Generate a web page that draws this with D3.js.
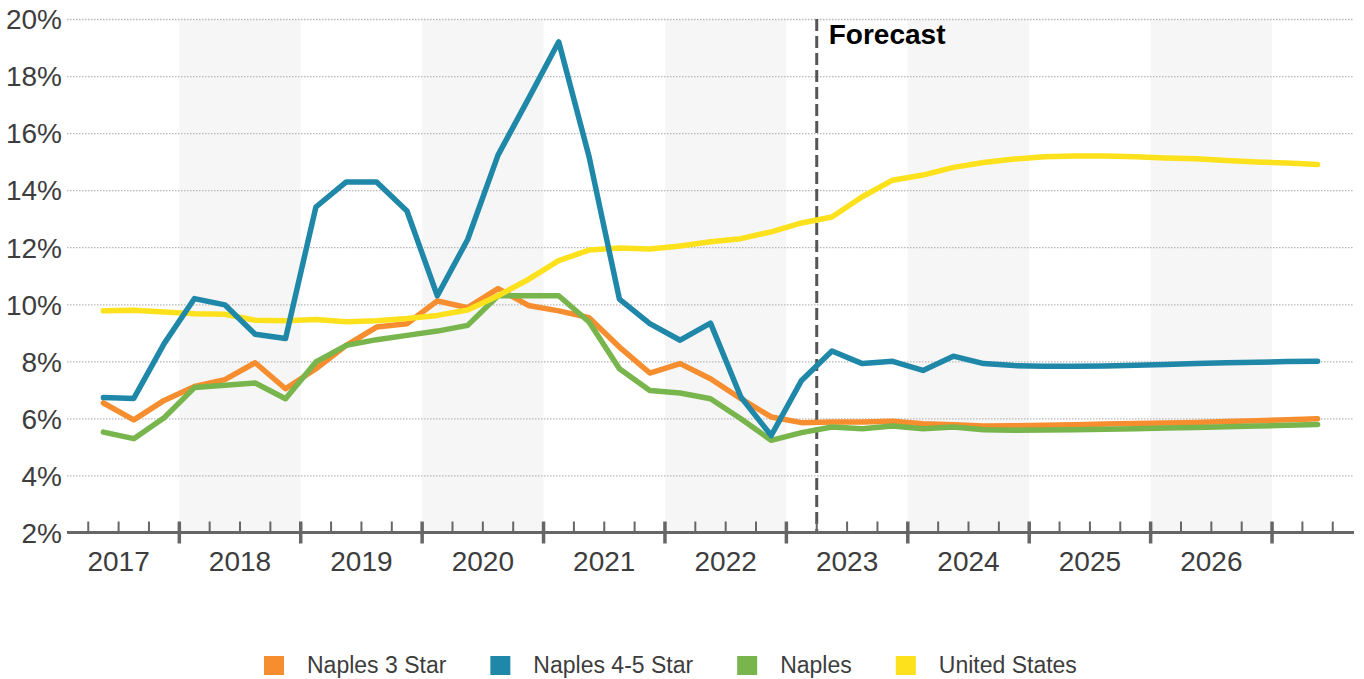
<!DOCTYPE html>
<html>
<head>
<meta charset="utf-8">
<script src="https://cdn.jsdelivr.net/npm/d3@7"></script>
<style>
  html, body { margin: 0; padding: 0; background: #fff; }
  svg { display: block; font-family: "Liberation Sans", Arial, sans-serif; }
</style>
</head>
<body>
<svg id="chart" width="1364" height="679"></svg>
<script>
// Quarterly vacancy rates, 2017 Q2 through 2027 Q2 (forecast from 2023 Q2)
const quarters = [
  "2017 Q2","2017 Q3","2017 Q4",
  "2018 Q1","2018 Q2","2018 Q3","2018 Q4",
  "2019 Q1","2019 Q2","2019 Q3","2019 Q4",
  "2020 Q1","2020 Q2","2020 Q3","2020 Q4",
  "2021 Q1","2021 Q2","2021 Q3","2021 Q4",
  "2022 Q1","2022 Q2","2022 Q3","2022 Q4",
  "2023 Q1","2023 Q2","2023 Q3","2023 Q4",
  "2024 Q1","2024 Q2","2024 Q3","2024 Q4",
  "2025 Q1","2025 Q2","2025 Q3","2025 Q4",
  "2026 Q1","2026 Q2","2026 Q3","2026 Q4",
  "2027 Q1","2027 Q2"
];

const naples3Star = [6.54, 5.95, 6.63, 7.12, 7.36, 7.95, 7.04, 7.74, 8.56, 9.2, 9.32, 10.12, 9.88, 10.55, 9.96, 9.77, 9.53, 8.5, 7.59, 7.92, 7.39, 6.69, 6.05, 5.85, 5.87, 5.87, 5.9, 5.81, 5.78, 5.73, 5.74, 5.76, 5.78, 5.8, 5.82, 5.84, 5.86, 5.89, 5.92, 5.95, 5.99];
const naples45Star = [6.73, 6.7, 8.62, 10.2, 9.98, 8.95, 8.8, 13.41, 14.29, 14.29, 13.27, 10.3, 12.27, 15.23, 17.2, 19.2, 15.17, 10.18, 9.32, 8.74, 9.34, 6.75, 5.4, 7.33, 8.36, 7.92, 8.0, 7.68, 8.18, 7.92, 7.85, 7.83, 7.83, 7.84, 7.86, 7.89, 7.92, 7.95, 7.97, 7.99, 8.0];
const naples = [5.52, 5.29, 6.02, 7.08, 7.16, 7.24, 6.69, 7.98, 8.56, 8.76, 8.91, 9.06, 9.26, 10.3, 10.3, 10.3, 9.38, 7.74, 6.98, 6.89, 6.69, 5.99, 5.23, 5.5, 5.7, 5.64, 5.73, 5.64, 5.7, 5.6, 5.58, 5.59, 5.6, 5.62, 5.64, 5.66, 5.68, 5.71, 5.73, 5.76, 5.79];
const unitedStates = [9.77, 9.79, 9.73, 9.67, 9.65, 9.44, 9.42, 9.47, 9.39, 9.42, 9.5, 9.61, 9.8, 10.3, 10.87, 11.53, 11.9, 11.97, 11.94, 12.04, 12.19, 12.3, 12.54, 12.85, 13.06, 13.77, 14.35, 14.53, 14.8, 14.97, 15.09, 15.17, 15.2, 15.2, 15.17, 15.13, 15.1, 15.04, 14.99, 14.95, 14.9];

const years = ["2017","2018","2019","2020","2021","2022","2023","2024","2025","2026"];
const yTicks = [2, 4, 6, 8, 10, 12, 14, 16, 18, 20];
const forecastStart = "2023 Q2";
const forecastLabel = "Forecast";

const seriesNames = ["Naples 3 Star", "Naples 4-5 Star", "Naples", "United States"];
const seriesColors = ["#f68d2e", "#1f87a8", "#78b54c", "#fde11d"];
const seriesValues = [naples3Star, naples45Star, naples, unitedStates];
// paint order of the lines (later ones on top)
const drawOrder = [0, 2, 3, 1];

// ---- layout ----
const svg = d3.select("#chart");
const plotLeft = 67, plotRight = 1354, plotTop = 19, plotBottom = 532.5;

// x is measured in quarters from the start of 2017 (quarter k centred at k + 0.5)
const qPos = q => {
  const [yr, qq] = q.split(" Q");
  return (+yr - 2017) * 4 + (+qq - 1) + 0.5;
};
const x = d3.scaleLinear().domain([0.3, 42.7]).range([plotLeft, plotRight]);
const y = d3.scaleLinear().domain([2, 20]).range([plotBottom, plotTop]);

// alternate-year shading
svg.append("g").selectAll("rect.band")
  .data(years.filter((d, i) => i % 2 === 1))
  .join("rect")
  .attr("class", "band")
  .attr("x", d => x((+d - 2017) * 4))
  .attr("width", d => x((+d - 2017) * 4 + 4) - x((+d - 2017) * 4))
  .attr("y", y(20) + 1)
  .attr("height", y(2) - y(20) - 1)
  .attr("fill", "#f6f6f6");

// dotted horizontal grid
const yAxis = d3.axisLeft(y).tickValues(yTicks).tickSize(-(plotRight - plotLeft)).tickFormat(d => d + "%");
const yg = svg.append("g").attr("transform", `translate(${plotLeft},0)`).call(yAxis);
yg.select(".domain").remove();
yg.selectAll(".tick line")
  .attr("stroke", "#b8b8b8")
  .attr("stroke-width", 1.3)
  .attr("stroke-dasharray", "1.5,1.5");
yg.selectAll(".tick text")
  .attr("x", -5)
  .attr("dy", "0.35em")
  .attr("fill", "#3d3d3d")
  .style("font-family", "'Liberation Sans', Arial, sans-serif")
  .style("font-size", "28px");
yg.selectAll(".tick").filter(d => d === 2).select("line").remove();

// forecast marker
const fx = x(qPos(forecastStart) - 0.5);
svg.append("line")
  .attr("x1", fx).attr("x2", fx)
  .attr("y1", y(20)).attr("y2", plotBottom)
  .attr("stroke", "#555")
  .attr("stroke-width", 3)
  .attr("stroke-dasharray", "12,5");
svg.append("text")
  .attr("x", fx + 12)
  .attr("y", 44)
  .attr("fill", "#000")
  .style("font-size", "28px")
  .style("font-weight", "bold")
  .text(forecastLabel);

// series lines
const line = d3.line()
  .x((d, i) => x(qPos(quarters[i])))
  .y(d => y(d));
drawOrder.forEach(k => {
  svg.append("path")
    .datum(seriesValues[k])
    .attr("d", line)
    .attr("fill", "none")
    .attr("stroke", seriesColors[k])
    .attr("stroke-width", 5.5)
    .attr("stroke-linejoin", "round")
    .attr("stroke-linecap", "round");
});

// x axis: quarter ticks with heavier year boundaries
const axisColor = "#666";
svg.append("line")
  .attr("x1", plotLeft).attr("x2", plotRight)
  .attr("y1", plotBottom).attr("y2", plotBottom)
  .attr("stroke", axisColor)
  .attr("stroke-width", 3);
const quarterTicks = d3.range(1, 43);
svg.selectAll("line.qtick")
  .data(quarterTicks)
  .join("line")
  .attr("class", "qtick")
  .attr("x1", d => x(d)).attr("x2", d => x(d))
  .attr("y1", plotBottom - 11)
  .attr("y2", d => d % 4 === 0 ? plotBottom + 11 : plotBottom)
  .attr("stroke", axisColor)
  .attr("stroke-width", d => d % 4 === 0 ? 3.5 : 2);

svg.selectAll("text.year")
  .data(years)
  .join("text")
  .attr("class", "year")
  .attr("x", d => x((+d - 2017) * 4 + 2))
  .attr("y", 571)
  .attr("text-anchor", "middle")
  .attr("fill", "#3d3d3d")
  .style("font-size", "28px")
  .text(d => d);

// legend
const legend = svg.append("g");
let lx = 264;
seriesNames.forEach((name, k) => {
  legend.append("rect")
    .attr("x", lx).attr("y", 656)
    .attr("width", 20).attr("height", 19)
    .attr("fill", seriesColors[k]);
  const t = legend.append("text")
    .attr("x", lx + 43)
    .attr("y", 673)
    .attr("fill", "#3d3d3d")
    .style("font-size", "23px")
    .text(name);
  lx += 43 + t.node().getComputedTextLength() + 44;
});
</script>
</body>
</html>
